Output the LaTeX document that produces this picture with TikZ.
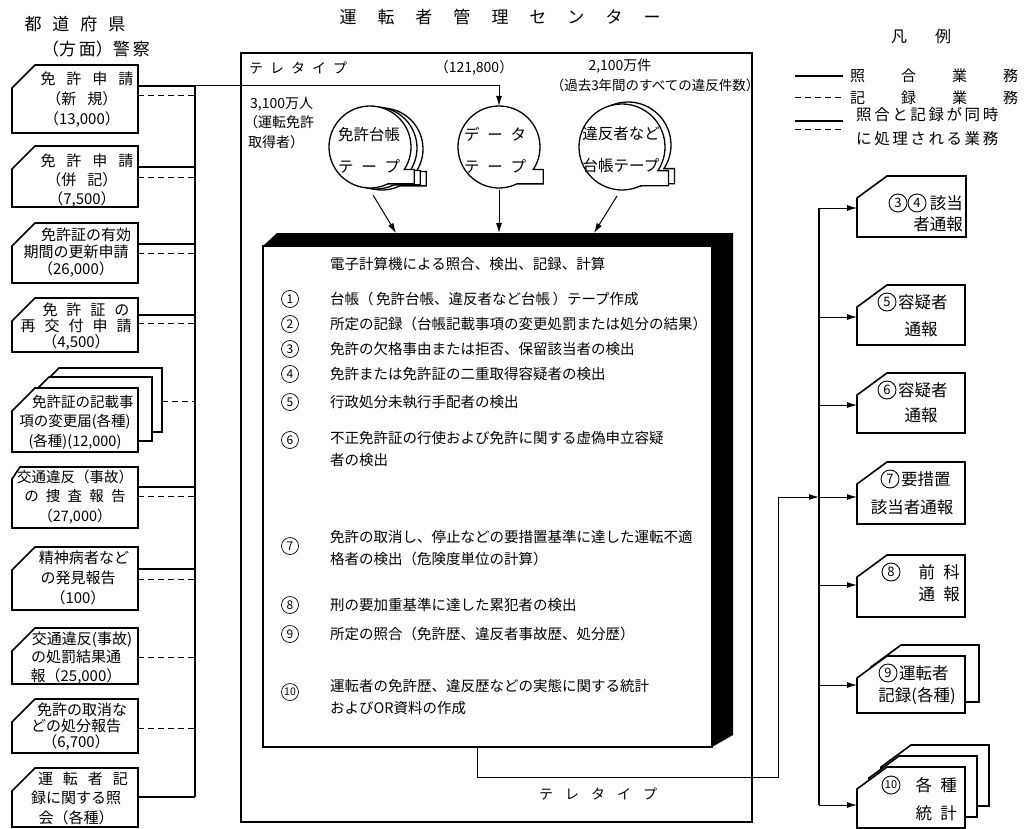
\documentclass[tikz,border=0pt]{standalone}
\usepackage{fontspec}
\setmainfont{Noto Sans CJK JP}
\usetikzlibrary{arrows.meta}
\newcommand\gp{\hspace{0.5em}}
\newcommand\cardshape[6]{\draw[card] (#1,#3+#6) -- (#1+#5,#3) -- (#2,#3) -- (#2,#4) -- (#1,#4) -- cycle;}
\newcommand\tapeshape[3]{\draw[tapeline] (#1+0.835*#3,#2+0.55*#3) arc[start angle=-33.37, end angle=295.84, radius=#3pt] -- (#1+1.08*#3,#2+0.9*#3) -- (#1+1.08*#3,#2+0.55*#3) -- cycle;}
\tikzset{
  card/.style={line width=1.6pt, fill=white, line join=miter},
  solidc/.style={line width=1.8pt},
  dashc/.style={line width=1pt, dash pattern=on 6pt off 4pt},
  busl/.style={line width=1.6pt},
  arr/.style={line width=1pt, -{Latex[length=10pt,width=6pt]}},
  tapeline/.style={line width=1.3pt, fill=white},
  lt/.style={inner sep=0pt, align=center},
  ct/.style={inner sep=0pt, anchor=west, font=\fontsize{14.5}{22}\selectfont},
  cn/.style={circle, draw, line width=0.7pt, inner sep=0pt, minimum size=17pt, font=\fontsize{12}{12}\selectfont},
  rn/.style={circle, draw, line width=0.9pt, inner sep=0pt, minimum size=18pt, font=\fontsize{13}{13}\selectfont},
  rt/.style={inner sep=0pt, font=\fontsize{16.5}{16.5}\selectfont},
}
\begin{document}
\begin{tikzpicture}[x=1pt,y=-1pt]
\useasboundingbox (0,0) rectangle (1027,829);

% ---------- headers ----------
\node[lt, font=\fontsize{17}{17}\selectfont] (hL1) at (75,24) {都\hspace{11pt}道\hspace{11pt}府\hspace{11pt}県};
\node[lt, font=\fontsize{17}{17}\selectfont] (hL2) at (96,49) {（方\,面）警\,察};
\node[lt, font=\fontsize{17}{17}\selectfont] (title) at (500,17) {運\hspace{21pt}転\hspace{21pt}者\hspace{21pt}管\hspace{21pt}理\hspace{21pt}セ\hspace{21pt}ン\hspace{21pt}タ\hspace{21pt}ー};

% ---------- legend ----------
\node[lt, font=\fontsize{16}{16}\selectfont] (lg0) at (921,36) {凡\hspace{28pt}例};
\coordinate (lga) at (795,76); \coordinate (lgb) at (843,76);
\draw[line width=2.2pt] (lga) -- (lgb);
\node[inner sep=0pt, anchor=west, font=\fontsize{15}{15}\selectfont] (lg1) at (850,76) {照\hspace{36pt}合\hspace{36pt}業\hspace{36pt}務};
\coordinate (lgc) at (795,98); \coordinate (lgd) at (843,98);
\draw[dashc] (lgc) -- (lgd);
\node[inner sep=0pt, anchor=west, font=\fontsize{15}{15}\selectfont] (lg2) at (850,98) {記\hspace{36pt}録\hspace{36pt}業\hspace{36pt}務};
\coordinate (lge) at (795,121); \coordinate (lgf) at (843,121);
\coordinate (lgg) at (795,130); \coordinate (lgh) at (843,130);
\draw[line width=2.6pt] (lge) -- (lgf);
\draw[dashc] (lgg) -- (lgh);
\node[inner sep=0pt, anchor=west, font=\fontsize{15.5}{24}\selectfont, align=left] (lg3) at (856,127) {照\,合\,と\,記\,録\,が\,同\,時\\に\,処\,理\,さ\,れ\,る\,業\,務};

% ---------- left cards ----------
\coordinate (lbus) at (195,0);
\cardshape{12}{138}{65}{133}{23}{23}
\node[lt, font=\fontsize{15}{20}\selectfont] (L1) at (82,100) {\hspace{10pt}免\hspace{11pt}許\hspace{11pt}申\hspace{11pt}請\\（新\hspace{11pt}規）\\（13,000）};
\cardshape{12}{138}{146}{207}{23}{23}
\node[lt, font=\fontsize{15}{19}\selectfont] (L2) at (82,181) {\hspace{10pt}免\hspace{11pt}許\hspace{11pt}申\hspace{11pt}請\\（併\hspace{11pt}記）\\（7,500）};
\cardshape{12}{138}{223}{283}{23}{23}
\node[lt, font=\fontsize{15}{17}\selectfont] (L3) at (76,253) {\hspace{20pt}免許証の有効\\期間の更新申請\\（26,000）};
\cardshape{12}{138}{298}{352}{23}{23}
\node[lt, font=\fontsize{15}{16}\selectfont] (L4) at (76,327) {\hspace{20pt}免\hspace{9pt}許\hspace{9pt}証\hspace{9pt}の\\再\hspace{9pt}交\hspace{9pt}付\hspace{9pt}申\hspace{9pt}請\\（4,500）};
\cardshape{36}{162}{368}{432}{23}{23}
\cardshape{26}{152}{377}{441}{23}{23}
\cardshape{12}{138}{388}{452}{23}{23}
\node[lt, font=\fontsize{14.5}{19.5}\selectfont] (L5) at (75,422) {\hspace{16pt}免許証の記載事\\項の変更届(各種)\\(各種)(12,000)};
\cardshape{12}{138}{467}{528}{8}{12}
\node[lt, font=\fontsize{14.5}{19.5}\selectfont] (L6) at (75,497) {交通違反（事故）\\の\gp 捜\gp 査\gp 報\gp 告\\（27,000）};
\cardshape{12}{138}{547}{610}{23}{23}
\node[lt, font=\fontsize{15}{20}\selectfont] (L7) at (78,578) {\hspace{12pt}精神病者など\\の発見報告\\（100）};
\cardshape{12}{138}{628}{684}{23}{23}
\node[lt, font=\fontsize{15}{18.5}\selectfont] (L8) at (76,658) {\hspace{12pt}交通違反(事故)\\の処罰結果通\\報（25,000）};
\cardshape{12}{138}{699}{753}{23}{23}
\node[lt, font=\fontsize{15}{16}\selectfont] (L9) at (76,727) {\hspace{12pt}免許の取消な\\どの処分報告\\（6,700）};
\cardshape{12}{138}{768}{827}{23}{23}
\node[lt, font=\fontsize{15}{19.5}\selectfont] (L10) at (76,798) {\hspace{14pt}運\hspace{10pt}転\hspace{10pt}者\hspace{10pt}記\\録に関する照\\会（各種）};

% connectors from left cards
\coordinate (c1s) at (138,86);  \coordinate (c1d) at (138,96);
\coordinate (c2s) at (138,167); \coordinate (c2d) at (138,178);
\coordinate (c3s) at (138,244); \coordinate (c3d) at (138,253);
\coordinate (c4s) at (138,315); \coordinate (c4d) at (138,323);
\coordinate (c5d) at (162,401);
\coordinate (c6s) at (138,487); \coordinate (c6d) at (138,496);
\coordinate (c7s) at (138,569); \coordinate (c7d) at (138,579);
\coordinate (c8d) at (138,657);
\coordinate (c9d) at (138,728);
\coordinate (c10s) at (138,797);
\foreach \c in {c1s,c2s,c3s,c4s,c6s,c7s,c10s} \draw[solidc] (\c) -- (\c -| lbus);
\foreach \c in {c1d,c2d,c3d,c4d,c5d,c6d,c7d,c8d,c9d} \draw[dashc] (\c) -- (\c -| lbus);
\draw[busl] (c1s -| lbus) -- (c10s -| lbus);

% ---------- centre outer box ----------
\draw[line width=1.2pt] (241,53) rectangle (752,822);
\node[lt, font=\fontsize{14}{14}\selectfont] (tt1) at (298,68) {テ\gp レ\gp タ\gp イ\gp プ};
\node[lt, font=\fontsize{14}{14}\selectfont] (num) at (474,68) {（121,800）};
\node[lt, font=\fontsize{14}{14}\selectfont] (n2100) at (620,66) {2,100万件};
\node[lt, font=\fontsize{13.5}{14}\selectfont] (n2100b) at (655,85) {（過去3年間のすべての違反件数）};
\node[inner sep=0pt, anchor=west, font=\fontsize{14}{19.5}\selectfont, align=left] (n3100) at (244,123) {\hspace{6pt}3,100万人\\（運転免許\\\hspace{4pt}取得者）};

% ---------- tapes ----------
\tapeshape{382}{149}{41}
\tapeshape{376}{148}{41}
\tapeshape{370}{147}{41}
\tapeshape{499}{147}{41}
\tapeshape{628}{145}{43}
\tapeshape{622}{147}{43}
\coordinate (tapeL) at (370,147); \coordinate (tapeM) at (499,147); \coordinate (tapeR) at (622,147);
\node[lt, font=\fontsize{15.5}{32}\selectfont] (tL) at (369,150) {免許台帳\\テ\gp ー\gp プ};
\node[lt, font=\fontsize{15.5}{32}\selectfont] (tM) at (495,150) {デ\gp ー\gp タ\\テ\gp ー\gp プ};
\node[lt, font=\fontsize{15.5}{32}\selectfont] (tR) at (621,150) {違反者など\\台帳テープ};

% telex line into data tape
\coordinate (tapeMtop) at (499,106);
\draw[arr] (c1s -| lbus) -| (tapeMtop);

% ---------- computer ----------
\fill (263,246) -- (277,233) -- (733,233) -- (733,735) -- (712,747) -- (712,246) -- cycle;
\draw[line width=1.5pt, fill=white] (263,246) rectangle (712,747);
\coordinate (aL1) at (373,195); \coordinate (aL2) at (396,233);
\coordinate (aM1) at (499,190); \coordinate (aM2) at (499,233);
\coordinate (aR1) at (617,196); \coordinate (aR2) at (594,233);
\draw[arr] (aL1) -- (aL2);
\draw[arr] (aM1) -- (aM2);
\draw[arr] (aR1) -- (aR2);

\node[ct] (hd) at (330,264) {電子計算機による照合、検出、記録、計算};
\node[cn] (n1) at (290,299) {1};  \node[ct] (i1) at (330,299) {台帳（\,免許台帳、違反者など台帳\,）テープ作成};
\node[cn] (n2) at (290,324) {2};  \node[ct] (i2) at (330,324) {所定の記録（台帳記載事項の変更処罰または処分の結果）};
\node[cn] (n3) at (290,349) {3};  \node[ct] (i3) at (330,349) {免許の欠格事由または拒否、保留該当者の検出};
\node[cn] (n4) at (290,374) {4};  \node[ct] (i4) at (330,374) {免許または免許証の二重取得容疑者の検出};
\node[cn] (n5) at (290,402) {5};  \node[ct] (i5) at (330,402) {行政処分未執行手配者の検出};
\node[cn] (n6) at (290,440) {6};  \node[ct, align=left] (i6) at (330,449) {不正免許証の行使および免許に関する虚偽申立容疑\\者の検出};
\node[cn] (n7) at (290,546) {7};  \node[ct, align=left] (i7) at (330,548) {免許の取消し、停止などの要措置基準に達した運転不適\\格者の検出（危険度単位の計算）};
\node[cn] (n8) at (290,605) {8};  \node[ct] (i8) at (330,605) {刑の要加重基準に達した累犯者の検出};
\node[cn] (n9) at (290,634) {9};  \node[ct] (i9) at (330,634) {所定の照合（免許歴、違反者事故歴、処分歴）};
\node[cn, font=\fontsize{10.5}{10.5}\selectfont] (n10) at (290,692) {10}; \node[ct, align=left] (i10) at (330,697) {運転者の免許歴、違反歴などの実態に関する統計\\およびOR資料の作成};

% ---------- output teletype ----------
\coordinate (cb) at (477,747);
\coordinate (cc) at (477,777);
\coordinate (cd) at (778,777);
\coordinate (ce) at (778,497);
\coordinate (rbus) at (819,0);
\draw[arr] (cb) -- (cc) -- (cd) -- (ce) -- (ce -| rbus);
\node[lt, font=\fontsize{14}{14}\selectfont] (tt2) at (598,794) {テ\hspace{12pt}レ\hspace{12pt}タ\hspace{12pt}イ\hspace{12pt}プ};

% ---------- right cards ----------
\cardshape{857}{966}{176}{237}{30}{22}
\node[rn] (R34a) at (898,203) {3};
\node[rn] (R34b) at (917,203) {4};
\node[rt, anchor=east] (R34c) at (963,203) {該当};
\node[rt, anchor=east] (R34d) at (963,224) {者通報};

\cardshape{857}{965}{285}{345}{30}{22}
\node[rn] (R5a) at (887,302) {5};
\node[rt, anchor=west] (R5b) at (898,302) {容疑者};
\node[rt] (R5c) at (921,329) {通報};

\cardshape{857}{965}{373}{433}{30}{22}
\node[rn] (R6a) at (887,390) {6};
\node[rt, anchor=west] (R6b) at (898,390) {容疑者};
\node[rt] (R6c) at (921,415) {通報};

\cardshape{857}{965}{462}{524}{30}{22}
\node[rn] (R7a) at (890,479) {7};
\node[rt, anchor=west] (R7b) at (901,479) {要措置};
\node[rt] (R7c) at (912,507) {該当者通報};

\cardshape{857}{965}{555}{617}{30}{22}
\node[rn] (R8a) at (891,572) {8};
\node[rt, anchor=east] (R8b) at (960,572) {前\gp 科};
\node[rt, anchor=east] (R8c) at (960,594) {通\gp 報};

\cardshape{871}{979}{645}{702}{30}{22}
\cardshape{857}{965}{656}{713}{30}{22}
\node[rn] (R9a) at (888,673) {9};
\node[rt, anchor=west] (R9b) at (899,673) {運転者};
\node[rt] (R9c) at (917,696) {記録(各種)};

\cardshape{881}{989}{745}{806}{30}{22}
\cardshape{869}{977}{756}{817}{30}{22}
\cardshape{857}{965}{767}{828}{30}{22}
\node[rn, font=\fontsize{11}{11}\selectfont] (R10a) at (891,785) {10};
\node[rt, anchor=east] (R10b) at (957,785) {各\gp 種};
\node[rt, anchor=east] (R10c) at (957,813) {統\gp 計};

% right bus and arrows
\coordinate (r34) at (857,208);
\coordinate (r5) at (857,317);
\coordinate (r6) at (857,405);
\coordinate (r7) at (857,497);
\coordinate (r8) at (857,585);
\coordinate (r9) at (857,685);
\coordinate (r10) at (857,805);
\draw[busl, line width=1.4pt] (r34 -| rbus) -- (r10 -| rbus);
\foreach \r in {r34,r5,r6,r7,r8,r9,r10} \draw[arr] (\r -| rbus) -- (\r);

\end{tikzpicture}
\end{document}
